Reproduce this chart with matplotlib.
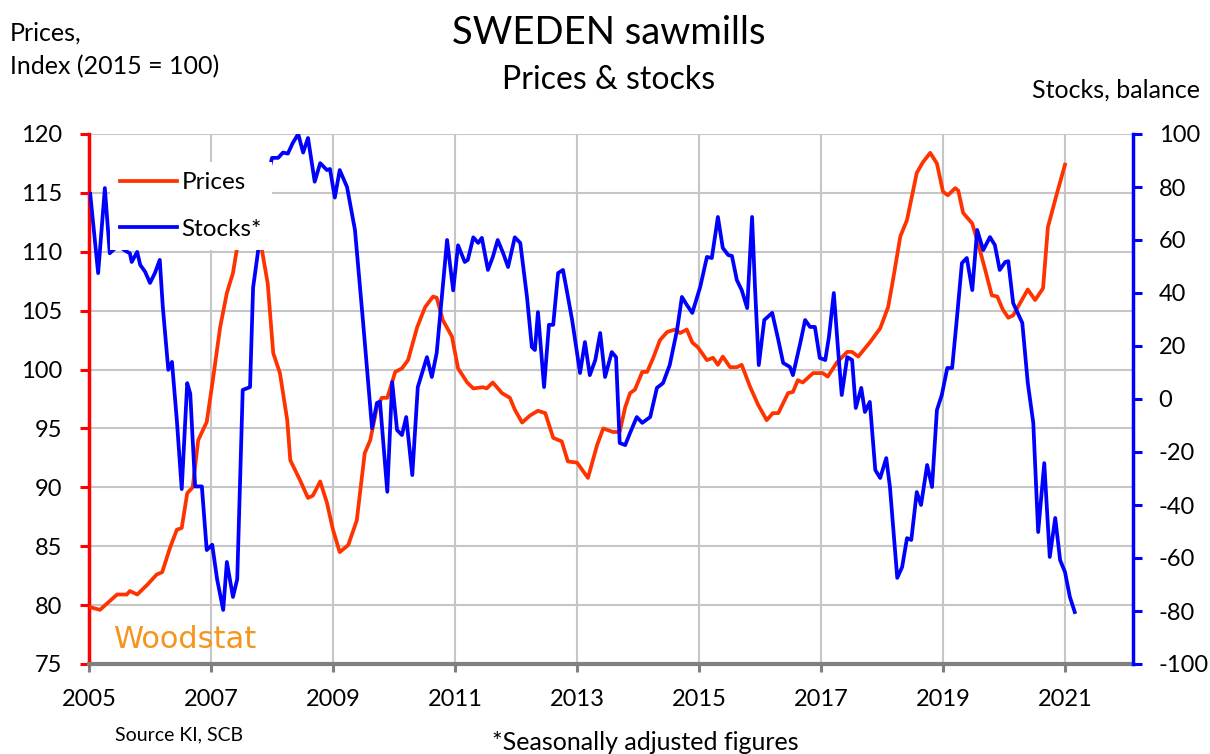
import numpy as np
import matplotlib.pyplot as plt
from matplotlib.lines import Line2D

plt.rcParams['font.family'] = ['Lato', 'DejaVu Sans']
plt.rcParams['axes.unicode_minus'] = False

# prices, index (2015 = 100) - decimal year / value
price_t = [2005.00, 2005.18, 2005.46, 2005.62, 2005.67, 2005.79, 2005.95, 2006.11, 2006.20, 2006.33,
           2006.44, 2006.52, 2006.61, 2006.70, 2006.79, 2006.93, 2007.03, 2007.15, 2007.26, 2007.36,
           2007.43, 2007.56, 2007.66, 2007.76, 2007.84, 2007.93, 2008.02, 2008.13, 2008.25, 2008.30,
           2008.46, 2008.59, 2008.67, 2008.79, 2008.90, 2009.00, 2009.11, 2009.25, 2009.39, 2009.52,
           2009.61, 2009.72, 2009.80, 2009.89, 2010.02, 2010.13, 2010.23, 2010.38, 2010.51, 2010.64,
           2010.70, 2010.80, 2010.95, 2011.05, 2011.20, 2011.30, 2011.46, 2011.52, 2011.62, 2011.77,
           2011.90, 2011.98, 2012.10, 2012.23, 2012.36, 2012.48, 2012.61, 2012.75, 2012.85, 2013.00,
           2013.18, 2013.33, 2013.43, 2013.59, 2013.70, 2013.79, 2013.87, 2013.95, 2014.07, 2014.15,
           2014.25, 2014.36, 2014.48, 2014.61, 2014.69, 2014.80, 2014.89, 2014.98, 2015.13, 2015.23,
           2015.31, 2015.39, 2015.51, 2015.62, 2015.70, 2015.84, 2015.97, 2016.11, 2016.21, 2016.30,
           2016.46, 2016.54, 2016.62, 2016.70, 2016.87, 2017.03, 2017.11, 2017.26, 2017.43, 2017.51,
           2017.61, 2017.80, 2017.97, 2018.10, 2018.18, 2018.30, 2018.41, 2018.57, 2018.67, 2018.79,
           2018.90, 2019.00, 2019.08, 2019.20, 2019.25, 2019.33, 2019.48, 2019.57, 2019.69, 2019.80,
           2019.89, 2019.98, 2020.07, 2020.15, 2020.26, 2020.39, 2020.51, 2020.64, 2020.72, 2020.87,
           2021.00]
price_v = [79.85, 79.6, 80.9, 80.9, 81.2, 80.9, 81.7, 82.6, 82.8, 84.9,
           86.4, 86.55, 89.5, 90.0, 94.0, 95.55, 99.1, 103.6, 106.5, 108.2,
           110.4, 114.5, 116.0, 114.0, 110.0, 107.3, 101.4, 99.7, 95.7, 92.3,
           90.6, 89.1, 89.3, 90.5, 88.7, 86.4, 84.5, 85.1, 87.2, 92.9,
           94.0, 96.8, 97.6, 97.6, 99.8, 100.1, 100.8, 103.6, 105.3, 106.2,
           106.1, 104.2, 102.8, 100.1, 98.9, 98.4, 98.5, 98.4, 98.9, 98.0,
           97.6, 96.6, 95.5, 96.1, 96.5, 96.3, 94.2, 93.9, 92.2, 92.1,
           90.8, 93.6, 95.0, 94.7, 94.7, 96.8, 98.0, 98.3, 99.8, 99.8,
           101.0, 102.5, 103.2, 103.4, 103.1, 103.4, 102.3, 101.9, 100.8, 101.0,
           100.4, 101.1, 100.2, 100.2, 100.4, 98.5, 97.0, 95.7, 96.3, 96.3,
           98.0, 98.1, 99.1, 98.9, 99.7, 99.7, 99.4, 100.6, 101.5, 101.5,
           101.1, 102.3, 103.5, 105.3, 107.6, 111.3, 112.7, 116.7, 117.6, 118.4,
           117.5, 115.1, 114.8, 115.4, 115.2, 113.3, 112.4, 110.8, 108.5, 106.3,
           106.2, 105.1, 104.4, 104.6, 105.6, 106.8, 105.9, 106.9, 112.1, 115.0,
           117.4]

# stocks, balance (seasonally adjusted)
stock_t = [2005.02, 2005.15, 2005.26, 2005.34, 2005.48, 2005.59, 2005.67, 2005.70, 2005.79, 2005.84,
           2005.92, 2006.00, 2006.08, 2006.16, 2006.21, 2006.30, 2006.36, 2006.44, 2006.52, 2006.61,
           2006.66, 2006.74, 2006.85, 2006.93, 2007.02, 2007.10, 2007.20, 2007.26, 2007.36, 2007.43,
           2007.52, 2007.64, 2007.69, 2007.77, 2007.89, 2008.00, 2008.10, 2008.18, 2008.26, 2008.34,
           2008.43, 2008.51, 2008.59, 2008.70, 2008.79, 2008.90, 2008.95, 2009.03, 2009.11, 2009.23,
           2009.36, 2009.49, 2009.64, 2009.72, 2009.77, 2009.89, 2009.97, 2010.05, 2010.13, 2010.20,
           2010.30, 2010.39, 2010.54, 2010.62, 2010.70, 2010.79, 2010.87, 2010.97, 2011.05, 2011.16,
           2011.21, 2011.30, 2011.38, 2011.44, 2011.54, 2011.62, 2011.70, 2011.79, 2011.87, 2011.98,
           2012.07, 2012.18, 2012.26, 2012.31, 2012.36, 2012.46, 2012.54, 2012.61, 2012.69, 2012.77,
           2012.84, 2012.92, 2013.05, 2013.13, 2013.21, 2013.30, 2013.38, 2013.46, 2013.57, 2013.64,
           2013.70, 2013.79, 2013.87, 2013.98, 2014.07, 2014.20, 2014.31, 2014.41, 2014.52, 2014.64,
           2014.72, 2014.80, 2014.89, 2015.02, 2015.13, 2015.21, 2015.31, 2015.39, 2015.48, 2015.54,
           2015.62, 2015.70, 2015.79, 2015.87, 2015.92, 2015.98, 2016.07, 2016.20, 2016.30, 2016.38,
           2016.49, 2016.54, 2016.66, 2016.74, 2016.82, 2016.90, 2016.98, 2017.07, 2017.13, 2017.21,
           2017.28, 2017.34, 2017.43, 2017.51, 2017.57, 2017.66, 2017.72, 2017.80, 2017.89, 2017.97,
           2018.07, 2018.13, 2018.25, 2018.33, 2018.41, 2018.48, 2018.57, 2018.64, 2018.74, 2018.82,
           2018.90, 2018.98, 2019.07, 2019.15, 2019.23, 2019.31, 2019.39, 2019.48, 2019.56, 2019.66,
           2019.77, 2019.85, 2019.93, 2020.02, 2020.07, 2020.15, 2020.30, 2020.39, 2020.48, 2020.56,
           2020.66, 2020.75, 2020.84, 2020.92, 2021.00, 2021.08, 2021.16]
stock_v = [77.4, 47.5, 79.6, 55, 58, 56, 55, 51.7, 55.5, 50.6,
           48, 43.8, 47.5, 52.5, 34.7, 11, 14, -8, -34, 6,
           2, -33, -33, -57, -55, -68, -79.6, -61.5, -74.7, -68,
           3.4, 4.5, 42, 55.5, 80, 91, 91, 93, 92.6, 96.6,
           100, 93, 98.5, 82, 89, 86.4, 86.8, 76, 86.4, 80,
           63.8, 29.8, -11, -1.5, -1, -35, 6.4, -11.7, -13.6, -6.8,
           -28.7, 4.5, 15.8, 8.3, 17.4, 40, 60, 41, 58, 51.7,
           52.5, 61, 58.9, 60.8, 48.7, 53.6, 60, 55, 49.8, 61,
           58.9, 38.5, 19.6, 18.5, 32.8, 4.5, 28, 28, 47.5, 48.7,
           40, 29.8, 9.8, 21.5, 9, 14.7, 24.9, 8.3, 17.7, 15.8,
           -16.6, -17.4, -12.8, -6.8, -9, -6.8, 4.2, 6, 12.8, 26,
           38.5, 35.5, 32.5, 42.3, 53.6, 53.2, 68.7, 57, 54.3, 54,
           44.9, 41.1, 34.3, 68.7, 41.1, 12.8, 29.8, 32.5, 22.3, 13.6,
           12.1, 9, 21.1, 29.8, 27.2, 27.2, 15.5, 14.7, 23.4, 40,
           18.5, 1.5, 15.8, 14.7, -3.4, 4.2, -4.9, -1.1, -26.8, -29.8,
           -22.3, -33.2, -67.5, -63.4, -52.5, -53.2, -35.1, -40, -24.9, -33.2,
           -4.2, 1.5, 11.7, 11.7, 31, 51.3, 53.2, 41.1, 63.8, 56.2,
           61.1, 58.1, 48.7, 51.7, 52, 36.2, 28.7, 6, -9, -50.2,
           -24.2, -59.6, -44.9, -60.8, -65.3, -74.7, -80.4]

year_ticks = list(range(2005, 2022, 2))
price_ticks = list(range(75, 121, 5))
stock_ticks = list(range(-100, 101, 20))

RED = '#FF3300'
BLUE = '#0000FF'
GRID = '#C6C6C6'

fig = plt.figure(figsize=(12.1, 7.54), dpi=100)
ax = fig.add_axes([89/1210, 1-664/754, (1133-89)/1210, 530/754])
ax2 = ax.twinx()

ax.plot(price_t, price_v, color=RED, lw=2.7, solid_joinstyle='round', zorder=3)
ax2.plot(stock_t, stock_v, color=BLUE, lw=2.7, solid_joinstyle='round', zorder=3)

ax.set_xlim(2005, 2005 + 1044/61)
ax.set_ylim(75, 120)
ax2.set_ylim(-100, 100)
ax.set_xticks(year_ticks)
ax.set_xticklabels([str(y) for y in year_ticks])
ax.set_yticks(price_ticks)
ax2.set_yticks(stock_ticks)

ax.grid(True, color=GRID, lw=1.5, zorder=0)
ax.set_axisbelow(True)

ax.spines['top'].set_visible(False)
ax2.spines['top'].set_visible(False)
ax.spines['right'].set_visible(False)
ax2.spines['left'].set_visible(False)
ax2.spines['bottom'].set_visible(False)
ax.spines['left'].set_color('#FF0000')
ax.spines['left'].set_linewidth(2.5)
ax2.spines['right'].set_color(BLUE)
ax2.spines['right'].set_linewidth(2.5)
ax.spines['bottom'].set_color('#808080')
ax.spines['bottom'].set_linewidth(3)

ax.tick_params(axis='x', direction='out', length=6, width=2.2, color='#808080',
               labelsize=17, pad=12, labelcolor='black')
ax.tick_params(axis='y', direction='out', length=6.5, width=2.2, color='#FF0000',
               labelsize=17, pad=13)
ax2.tick_params(axis='y', direction='out', length=6.5, width=2.2, color=BLUE,
                labelsize=17, pad=12)

handles = [Line2D([], [], color=RED, lw=2.7), Line2D([], [], color=BLUE, lw=2.7)]
leg = ax2.legend(handles, ['Prices', 'Stocks*'], loc='upper left',
                 bbox_to_anchor=(110/1210, 1-162/754), bbox_transform=fig.transFigure,
                 frameon=True, fancybox=False, framealpha=1, edgecolor='none',
                 fontsize=17.5, handlelength=2.35, handletextpad=0.18, labelspacing=1.06,
                 borderpad=0.42, borderaxespad=0)
leg.set_zorder(10)

fig.text(609/1210, 1-33/754, 'SWEDEN sawmills', ha='center', va='center', fontsize=27.5)
fig.text(609/1210, 1-80/754, 'Prices & stocks', ha='center', va='center', fontsize=23)
fig.text(10/1210, 1-33/754, 'Prices,', ha='left', va='center', fontsize=18)
fig.text(10/1210, 1-67/754, 'Index (2015 = 100)', ha='left', va='center', fontsize=18)
fig.text(1200/1210, 1-90/754, 'Stocks, balance', ha='right', va='center', fontsize=18)
fig.text(115/1210, 1-735/754, 'Source KI, SCB', ha='left', va='center', fontsize=14)
fig.text(645/1210, 1-742/754, '*Seasonally adjusted figures', ha='center', va='center', fontsize=18)
fig.text(114/1210, 1-639/754, 'Woodstat', ha='left', va='center', fontsize=22,
         color='#F7941D', family='DejaVu Sans')

fig.savefig('out.png', dpi=100)
